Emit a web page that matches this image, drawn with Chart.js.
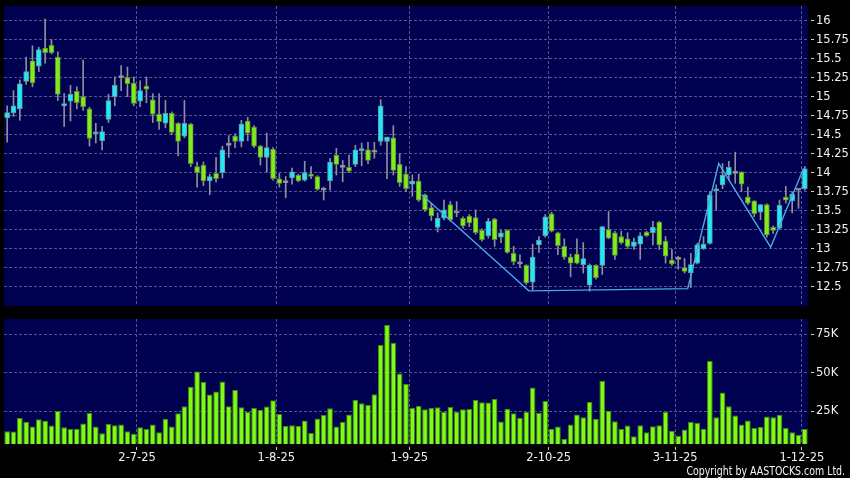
<!DOCTYPE html>
<html><head><meta charset="utf-8">
<script src="https://cdn.jsdelivr.net/npm/chart.js@4.4.1/dist/chart.umd.min.js"></script>
<style>
html,body{margin:0;padding:0;background:#000;width:850px;height:478px;overflow:hidden}
#c1{position:absolute;left:0;top:0}
#c2{position:absolute;left:0;top:312px}
#copy{position:absolute;right:5px;top:464px;color:#f4f4f4;font:12px/14px "DejaVu Sans";transform:scaleX(0.785);transform-origin:right top;white-space:nowrap}
</style></head><body>
<canvas id="c1" width="850" height="312"></canvas>
<canvas id="c2" width="850" height="166"></canvas>
<div id="copy">Copyright by AASTOCKS.com Ltd.</div>
<script>
// ---- categories: trading days (day numbers per month, 2025) ----
const daysJun = [2,3,4,5,6,9,10,11,12,13,16,17,18,19,20,23,24,25,26,27,30];
const daysJul = [2,3,4,7,8,9,10,11,14,15,16,17,18,21,22,23,24,25,28,29,30,31];
const daysAug = [1,4,5,6,7,8,11,12,13,14,15,18,19,20,21,22,25,26,27,28,29];
const daysSep = [1,2,3,4,5,8,9,10,11,12,15,16,17,18,19,22,23,24,25,26,29,30];
const daysOct = [2,3,6,8,9,10,13,14,15,16,17,20,21,22,23,24,27,28,30,31];
const daysNov = [3,4,5,6,7,10,11,12,13,14,17,18,19,20,21,24,25,26,27,28];
const daysDec = [1];
const dates = [].concat(
  daysJun.map(d => d + '-6-25'), daysJul.map(d => d + '-7-25'), daysAug.map(d => d + '-8-25'),
  daysSep.map(d => d + '-9-25'), daysOct.map(d => d + '-10-25'), daysNov.map(d => d + '-11-25'),
  daysDec.map(d => d + '-12-25'));
const tickLabels = ['2-7-25','1-8-25','1-9-25','2-10-25','3-11-25','1-12-25'];
const priceTicks = [12.5,12.75,13,13.25,13.5,13.75,14,14.25,14.5,14.75,15,15.25,15.5,15.75,16];
const volumeTicks = [25000,50000,75000];

// ---- series ----
const opens = [14.72,14.79,14.84,15.20,15.47,15.40,15.64,15.68,15.52,14.88,
 14.94,15.07,15.00,14.84,14.51,14.42,14.70,15.00,15.25,15.25,
 15.18,14.94,15.14,14.96,14.77,14.65,14.78,14.65,14.48,14.64,
 14.08,14.10,13.89,13.99,14.00,14.36,14.48,14.41,14.68,14.60,
 14.35,14.20,14.31,13.92,13.87,13.93,13.97,13.90,13.98,13.95,
 13.77,13.89,14.23,14.07,14.07,14.11,14.29,14.30,14.27,14.41,
 14.41,14.46,14.11,13.98,13.85,13.89,13.71,13.54,13.28,13.40,
 13.58,13.47,13.40,13.43,13.41,13.24,13.17,13.39,13.15,13.24,
 12.94,12.80,12.78,12.56,13.05,13.17,13.46,13.21,13.03,12.89,
 12.93,12.79,12.52,12.78,12.78,13.25,13.21,13.16,13.13,13.03,
 13.06,13.22,13.21,13.35,13.10,12.85,12.86,12.75,12.68,12.81,
 13.00,13.07,13.76,13.84,13.97,13.99,14.01,13.68,13.63,13.48,
 13.58,13.28,13.27,13.68,13.63,13.77,13.79];
const highs = [14.88,15.08,15.22,15.52,15.67,15.65,16.02,15.75,15.59,15.04,
 15.15,15.13,15.48,14.86,14.65,14.61,15.03,15.26,15.41,15.39,
 15.26,15.21,15.26,15.04,15.04,14.95,14.80,14.66,14.95,14.65,
 14.14,14.14,13.98,14.20,14.35,14.49,14.51,14.69,14.73,14.62,
 14.36,14.52,14.33,13.99,13.95,14.06,13.98,14.15,14.08,13.96,
 13.81,14.19,14.32,14.16,14.23,14.36,14.39,14.40,14.40,14.96,
 14.47,14.62,14.25,14.08,13.97,13.98,13.72,13.60,13.47,13.64,
 13.62,13.62,13.42,13.45,13.51,13.26,13.40,13.40,13.24,13.25,
 13.03,12.92,12.79,13.06,13.16,13.45,13.48,13.22,13.13,12.93,
 13.13,13.08,12.80,12.79,13.29,13.49,13.23,13.23,13.21,13.14,
 13.21,13.23,13.36,13.36,13.16,12.99,12.90,12.87,12.94,13.07,
 13.16,13.75,13.84,14.12,14.15,14.27,14.01,13.81,13.63,13.58,
 13.59,13.30,13.64,13.82,13.75,13.78,14.08];
const lows = [14.40,14.74,14.69,15.16,15.13,15.33,15.44,15.56,14.95,14.61,
 14.68,14.84,14.82,14.35,14.39,14.30,14.66,14.88,15.08,15.00,
 14.88,14.87,14.92,14.66,14.57,14.59,14.50,14.22,14.46,14.08,
 13.81,13.83,13.71,13.88,13.93,14.20,14.33,14.34,14.42,14.33,
 14.10,14.01,13.90,13.81,13.67,13.85,13.88,13.89,13.92,13.77,
 13.64,13.77,13.97,13.88,14.00,14.08,14.09,14.12,14.19,14.36,
 13.92,13.97,13.82,13.75,13.69,13.62,13.49,13.37,13.22,13.38,
 13.36,13.42,13.27,13.29,13.19,13.10,13.14,13.03,13.08,12.94,
 12.79,12.75,12.53,12.46,12.95,13.15,13.22,12.92,12.86,12.63,
 12.80,12.68,12.44,12.60,12.66,13.13,12.86,13.06,13.00,12.99,
 12.86,13.16,13.05,12.99,12.81,12.78,12.73,12.68,12.49,12.80,
 12.99,13.06,13.51,13.79,13.90,13.86,13.75,13.58,13.42,13.38,
 13.15,13.20,13.26,13.60,13.47,13.53,13.77];
const closes = [14.79,14.88,15.17,15.33,15.18,15.62,15.58,15.58,15.03,14.91,
 15.03,14.92,14.87,14.45,14.53,14.54,14.95,15.15,15.25,15.17,
 14.91,15.08,15.10,14.77,14.67,14.78,14.53,14.41,14.65,14.12,
 14.00,13.89,13.95,13.92,14.30,14.36,14.41,14.64,14.52,14.35,
 14.20,14.33,13.92,13.86,13.87,14.01,13.89,14.00,13.95,13.78,
 13.77,14.14,14.11,14.07,14.02,14.30,14.31,14.16,14.27,14.88,
 14.47,14.03,13.87,13.79,13.89,13.64,13.51,13.43,13.40,13.51,
 13.38,13.47,13.30,13.34,13.21,13.12,13.36,13.12,13.21,12.95,
 12.83,12.80,12.55,12.89,13.11,13.42,13.23,13.04,12.89,12.81,
 12.81,12.87,12.78,12.62,13.29,13.14,12.91,13.08,13.03,13.09,
 13.17,13.17,13.28,13.05,12.90,12.80,12.86,12.70,12.79,13.05,
 13.06,13.71,13.78,13.97,14.07,13.99,13.85,13.60,13.46,13.58,
 13.18,13.24,13.57,13.64,13.72,13.77,14.05];
const volumes = [11800,11600,20400,17900,14900,19700,18600,15500,25000,14400,
 13300,13500,16800,23700,14900,10500,16600,15700,16200,11800,
 10200,14400,13300,16200,11100,19900,14900,23500,28100,40900,
 50800,43900,35800,37800,44200,28100,38700,27400,24300,27200,
 25900,27900,32100,23000,15300,15700,15300,18800,10700,20200,
 22400,26800,14900,18000,22800,32300,30100,29000,36000,68000,
 81200,69500,49500,42800,27200,28500,26100,27000,27400,24600,
 27600,24300,26100,26300,32300,30700,30500,32900,18200,26500,
 23500,20600,24300,40400,23900,31600,13500,14900,6700,16200,
 22800,21000,30900,19900,44800,25000,18400,13300,15500,8500,
 15700,11100,15100,15700,24600,12200,8900,12900,18000,17300,
 13500,57600,21000,37100,28100,22100,16200,18800,14000,14600,
 21500,21000,22600,14000,11100,9600,13300];
// trend line vertices (bar index, price)
const trendIdx = [65.5, 82.4, 107.5, 112.4, 120.6, 125.8];
const trendPrice = [13.71, 12.445, 12.475, 14.12, 13.02, 14.055];

// ---- styles ----
const PANEL = '#000050';
const GRID = '#55558c';
const UP = '#20e8f6', DOWN = '#80ec1c', DOJI = '#a8a8a8';
const TXT = '#f0f0f0';
const FONT = {family: 'DejaVu Sans', size: 11.5};

const panelBg = {id: 'panelBg', beforeDraw(c) {
  const {ctx, chartArea: a} = c; ctx.save(); ctx.fillStyle = PANEL;
  ctx.fillRect(a.left, a.top, a.right - a.left, a.bottom - a.top); ctx.restore();
}};
const monthSet = new Set(tickLabels);
const vGrid = ctx => (ctx.index != null && monthSet.has(dates[ctx.index])) ? GRID : 'rgba(0,0,0,0)';
const bodyColor = closes.map((c, i) => c > opens[i] ? UP : (c < opens[i] ? DOWN : DOJI));
const bodyBorder = closes.map((c, i) => c > opens[i] ? '#5e9aa2' : (c < opens[i] ? '#5e8a3a' : '#8a8a8a'));

Chart.defaults.font.family = 'DejaVu Sans';

new Chart(document.getElementById('c1'), {
  type: 'line',
  data: {
    labels: dates,
    datasets: [
      {type: 'line', data: trendIdx.map((x, i) => ({x, y: trendPrice[i]})), xAxisID: 'xl', yAxisID: 'y',
       borderColor: '#44aaea', borderWidth: 1.4, pointRadius: 0, tension: 0, order: 0},
      {type: 'bar', data: opens.map((o, i) => [Math.min(o, closes[i]), Math.max(o, closes[i])]), xAxisID: 'x', yAxisID: 'y',
       backgroundColor: bodyColor, borderColor: bodyBorder, borderWidth: 1, borderSkipped: false,
       barThickness: 5, minBarLength: 2, grouped: false, order: 1},
      {type: 'bar', data: lows.map((l, i) => [l, highs[i]]), xAxisID: 'x', yAxisID: 'y',
       backgroundColor: '#8e8e9e', borderWidth: 0, barThickness: 1, grouped: false, order: 2}
    ]
  },
  options: {
    responsive: false, animation: false, devicePixelRatio: 1, events: [],
    layout: {padding: {left: 4, top: 6, right: 0, bottom: 0}},
    plugins: {legend: {display: false}, tooltip: {enabled: false}},
    scales: {
      x: {type: 'category', offset: true,
          grid: {offset: true, color: vGrid, drawTicks: false},
          border: {display: false, dash: [3, 2]},
          ticks: {display: false, autoSkip: false, maxRotation: 0, minRotation: 0},
          afterFit(s) { s.height = 6; s.paddingLeft = 0; s.paddingRight = 0; }},
      xl: {type: 'linear', axis: 'x', display: false, offset: false, bounds: 'data', grace: 0,
           min: -0.5, max: 126.5, grid: {offset: false}},
      y: {type: 'linear', position: 'right', min: 12.246, max: 16.193,
          afterBuildTicks(s) { s.ticks = priceTicks.map(v => ({value: v})); },
          grid: {color: GRID, tickLength: 6, tickColor: '#d0d0d0', tickBorderDash: [3, 3], tickBorderDashOffset: 3},
          border: {display: false, dash: [3, 2]},
          ticks: {color: TXT, font: FONT, padding: 2, callback: v => String(v)},
          afterFit(s) { s.width = 42; s.paddingTop = 0; s.paddingBottom = 0; }}
    }
  },
  plugins: [panelBg]
});

new Chart(document.getElementById('c2'), {
  type: 'bar',
  data: {
    labels: dates,
    datasets: [{data: volumes, backgroundColor: '#80fa14', borderColor: '#3f8a08', borderWidth: 1,
                barPercentage: 0.9, categoryPercentage: 1.0}]
  },
  options: {
    responsive: false, animation: false, devicePixelRatio: 1, events: [],
    layout: {padding: {left: 4, top: 7, right: 0, bottom: 0}},
    plugins: {legend: {display: false}, tooltip: {enabled: false}},
    scales: {
      x: {type: 'category', offset: true,
          grid: {offset: true, color: vGrid, tickColor: ctx => vGrid(ctx) === GRID ? '#c8c8c8' : 'rgba(0,0,0,0)',
                 tickLength: 6, tickBorderDash: [3, 3], tickBorderDashOffset: 3},
          border: {display: false, dash: [3, 2]},
          ticks: {color: TXT, font: FONT, padding: 1, autoSkip: false, maxRotation: 0, minRotation: 0, labelOffset: -3,
                  callback: (v, i) => monthSet.has(dates[i]) ? dates[i] : ''},
          afterFit(s) { s.height = 34; s.paddingLeft = 0; s.paddingRight = 0; }},
      y: {type: 'linear', position: 'right', min: 3500, max: 85000,
          afterBuildTicks(s) { s.ticks = volumeTicks.map(v => ({value: v})); },
          grid: {color: GRID, tickLength: 6, tickColor: '#d0d0d0', tickBorderDash: [3, 3], tickBorderDashOffset: 3},
          border: {display: false, dash: [3, 2]},
          ticks: {color: TXT, font: FONT, padding: 2, callback: v => (v / 1000) + 'K'},
          afterFit(s) { s.width = 42; s.paddingTop = 0; s.paddingBottom = 0; }}
    }
  },
  plugins: [panelBg]
});
</script>
</body></html>
